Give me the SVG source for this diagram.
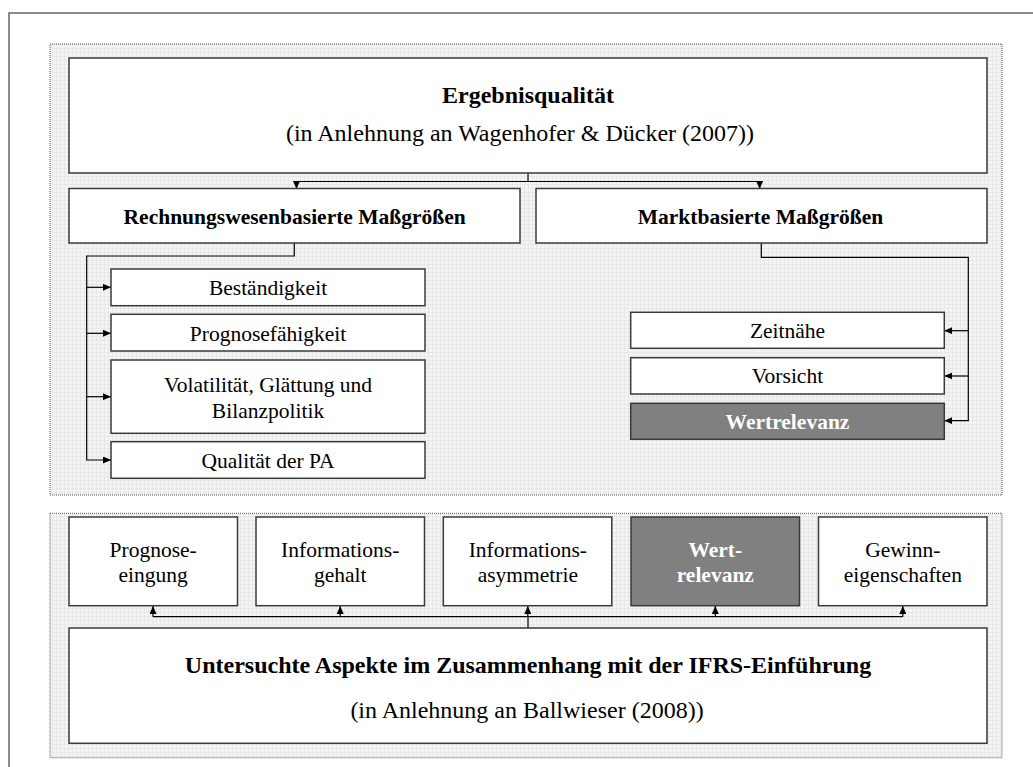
<svg xmlns="http://www.w3.org/2000/svg" width="1033" height="767" viewBox="0 0 1033 767">
<defs>
<pattern id="grid" width="4" height="4" patternUnits="userSpaceOnUse">
<rect width="4" height="4" fill="#f4f4f4"/>
<path d="M0,0.5 H4 M0.5,0 V4" stroke="#e8e8e8" stroke-width="1" fill="none"/>
</pattern>
<marker id="arr" viewBox="0 0 8 7" refX="8" refY="3.5" markerWidth="8" markerHeight="7" markerUnits="userSpaceOnUse" orient="auto">
<path d="M0,0 L8,3.5 L0,7 z" fill="#000"/>
</marker>
<style>
.box{fill:#fff;stroke:#3a3a3a;stroke-width:1.5}
.dark{fill:#808080;stroke:#3a3a3a;stroke-width:1.5}
.panel{fill:url(#grid);stroke:#555;stroke-width:1;stroke-dasharray:1 1}
.frame{fill:none;stroke:#666;stroke-width:1.5}
text{font-family:"Liberation Serif","Times New Roman",serif;fill:#000;text-anchor:middle}
.t{font-size:24px}
.s{font-size:21.5px}
.b{font-weight:bold}
.w{fill:#fff}
.conn{fill:none;stroke:#000;stroke-width:1.2}
</style>
</defs>
<rect width="1033" height="767" fill="#fff"/>
<rect class="frame" x="9" y="13" width="1040" height="780"/>
<rect class="panel" x="50" y="44" width="952" height="451"/>
<rect class="panel" x="50" y="513.3" width="952" height="244.5"/>

<g id="connectors">
<path class="conn" d="M528,173 V181.5 H296.5 V189" marker-end="url(#arr)"/>
<path class="conn" d="M528,181.5 H759.6 V189" marker-end="url(#arr)"/>
<path class="conn" d="M294.3,243 V256 H86.7 V460 H111" marker-end="url(#arr)"/>
<path class="conn" d="M86.7,287.3 H111" marker-end="url(#arr)"/>
<path class="conn" d="M86.7,333.3 H111" marker-end="url(#arr)"/>
<path class="conn" d="M86.7,396.7 H111" marker-end="url(#arr)"/>
<path class="conn" d="M761.3,243 V257.3 H968.3 V420.7 H944.3" marker-end="url(#arr)"/>
<path class="conn" d="M968.3,330.7 H944.3" marker-end="url(#arr)"/>
<path class="conn" d="M968.3,376 H944.3" marker-end="url(#arr)"/>
<path class="conn" d="M528,628 V616.7 M153,616.7 H903"/>
<path class="conn" d="M153,616.7 V606" marker-end="url(#arr)"/>
<path class="conn" d="M340.2,616.7 V606" marker-end="url(#arr)"/>
<path class="conn" d="M527.8,616.7 V606" marker-end="url(#arr)"/>
<path class="conn" d="M715.3,616.7 V606" marker-end="url(#arr)"/>
<path class="conn" d="M902.8,616.7 V606" marker-end="url(#arr)"/>
</g>

<g id="ergebnisqualitaet">
<rect class="box" x="69" y="58" width="918" height="115"/>
<text class="t b" x="528" y="103.3">Ergebnisqualität</text>
<text class="t" x="520" y="140.7">(in Anlehnung an Wagenhofer &amp; Dücker (2007))</text>
</g>
<g id="rechnungswesen">
<rect class="box" x="69" y="188.5" width="451" height="54.5"/>
<text class="s b" x="294.7" y="224">Rechnungswesenbasierte Maßgrößen</text>
</g>
<g id="marktbasiert">
<rect class="box" x="536" y="188.5" width="451" height="54.5"/>
<text class="s b" x="760.5" y="224">Marktbasierte Maßgrößen</text>
</g>
<g id="bestaendigkeit">
<rect class="box" x="111" y="269" width="314" height="36.7"/>
<text class="s" x="268" y="295">Beständigkeit</text>
</g>
<g id="prognosefaehigkeit">
<rect class="box" x="111" y="314.3" width="314" height="36.7"/>
<text class="s" x="268" y="341">Prognosefähigkeit</text>
</g>
<g id="volatilitaet">
<rect class="box" x="111" y="360" width="314" height="73.3"/>
<text class="s" x="268" y="391.7">Volatilität, Glättung und</text>
<text class="s" x="268" y="418.3">Bilanzpolitik</text>
</g>
<g id="qualitaet-pa">
<rect class="box" x="111" y="441.7" width="314" height="36.6"/>
<text class="s" x="268" y="467.7">Qualität der PA</text>
</g>
<g id="zeitnaehe">
<rect class="box" x="630.7" y="312.3" width="313.6" height="36"/>
<text class="s" x="787.5" y="338.3">Zeitnähe</text>
</g>
<g id="vorsicht">
<rect class="box" x="630.7" y="357.7" width="313.6" height="36.3"/>
<text class="s" x="787.5" y="383.3">Vorsicht</text>
</g>
<g id="wertrelevanz-top">
<rect class="dark" x="630.7" y="403.3" width="313.6" height="36"/>
<text class="s b w" x="787.5" y="429.3">Wertrelevanz</text>
</g>

<g id="prognoseeignung">
<rect class="box" x="69" y="517" width="168.5" height="88.7"/>
<text class="s" x="153.2" y="556.5">Prognose-</text>
<text class="s" x="153.2" y="581.5">eingung</text>
</g>
<g id="informationsgehalt">
<rect class="box" x="256" y="517" width="168.5" height="88.7"/>
<text class="s" x="340.2" y="556.5">Informations-</text>
<text class="s" x="340.2" y="581.5">gehalt</text>
</g>
<g id="informationsasymmetrie">
<rect class="box" x="443.3" y="517" width="168.5" height="88.7"/>
<text class="s" x="527.8" y="556.5">Informations-</text>
<text class="s" x="527.8" y="581.5">asymmetrie</text>
</g>
<g id="wertrelevanz-bottom">
<rect class="dark" x="631" y="517" width="168.5" height="88.7"/>
<text class="s b w" x="715.3" y="556.5">Wert-</text>
<text class="s b w" x="715.3" y="581.5">relevanz</text>
</g>
<g id="gewinneigenschaften">
<rect class="box" x="818.5" y="517" width="168.5" height="88.7"/>
<text class="s" x="902.8" y="556.5">Gewinn-</text>
<text class="s" x="902.8" y="581.5">eigenschaften</text>
</g>
<g id="untersuchte-aspekte">
<rect class="box" x="69" y="628" width="918" height="115.3"/>
<text class="t b" x="528" y="673.3">Untersuchte Aspekte im Zusammenhang mit der IFRS-Einführung</text>
<text class="t" x="527" y="718.3">(in Anlehnung an Ballwieser (2008))</text>
</g>
</svg>
